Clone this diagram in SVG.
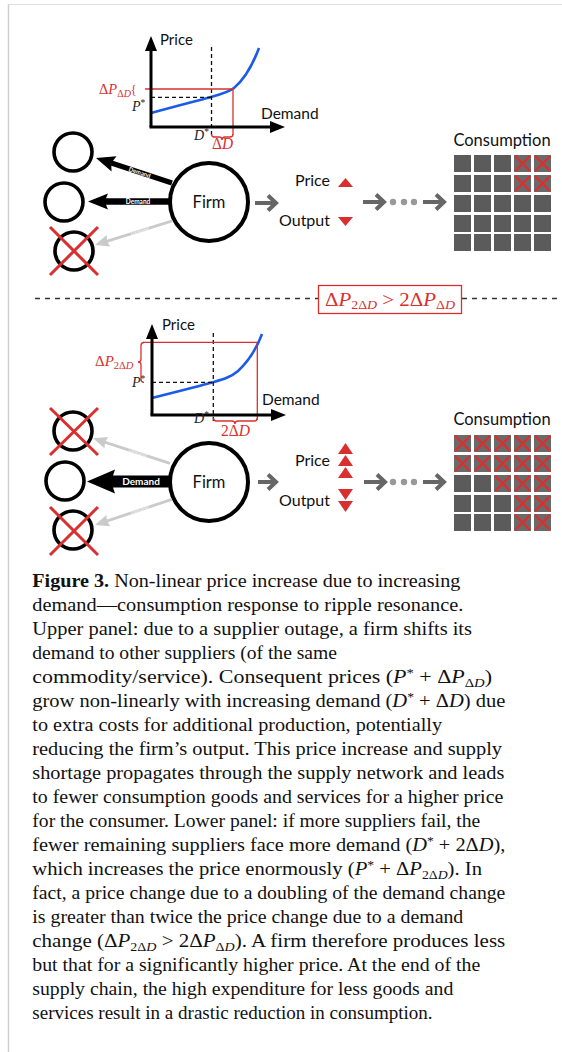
<svg xmlns="http://www.w3.org/2000/svg" width="562" height="1052" viewBox="0 0 562 1052">
<style>
.sans{font-family:Lato,"Open Sans","DejaVu Sans",sans-serif;fill:#111}
.math{font-family:"Liberation Serif","Times New Roman",serif;}
.it{font-style:italic}
.red{fill:#d9302f}
.dk{fill:#222}
.axis{stroke:#000;stroke-width:3;fill:none}
.dash{stroke:#111;stroke-width:1.3;stroke-dasharray:4 3;fill:none}
.rl{stroke:#d9302f;stroke-width:1.3;fill:none}
.curve{stroke:#1a5ce6;stroke-width:2.6;fill:none}
.node{fill:#fff;stroke:#000;stroke-width:3.6}
.firm{fill:#fff;stroke:#000;stroke-width:4}
.x{stroke:#d9302f;stroke-width:3;stroke-linecap:butt}
.garr{stroke:#666;stroke-width:4;fill:none;stroke-linejoin:miter}
.dot{fill:#999}
.tri{fill:#d9302f}
.sq{fill:#5b5b5b}
.sqx{fill:#6a6a6a}
.cx{stroke:#d9302f;stroke-width:2.4}
.cap{font-family:"Liberation Serif","Times New Roman",serif;font-size:18px;fill:#111}
.lbl{font-family:Lato,"Open Sans",sans-serif;font-weight:bold;fill:#fff}
</style>
<defs>
<g id="sq"><rect width="17" height="17" class="sq"/></g>
<g id="sqx"><rect width="17" height="17" class="sqx"/><path d="M1,1 L16,16 M16,1 L1,16" class="cx"/></g>
</defs>

<g id="frame">
<line x1="8.5" y1="4" x2="8.5" y2="1052" stroke="#cfcfcf" stroke-width="1.5"/>
<line x1="8" y1="4.5" x2="562" y2="4.5" stroke="#e0e0e0" stroke-width="1"/>
</g>

<!-- ============ UPPER PANEL ============ -->
<g id="chart-upper">
<path class="curve" d="M151,113 C180,105 200,100 211,97 C222,94 229,92 234,88 C246,78 253,64 259,48"/>
<path class="dash" d="M211.5,47 V137 M151,97.3 H211.5"/>
<path class="rl" d="M145,89 H233 V135"/>
<path class="rl" d="M211.5,134 Q211.5,137 214.5,137 L219,137 Q222,137 222,140 Q222,137 225,137 L230,137 Q233,137 233,134"/>
<line class="axis" x1="151" y1="127" x2="151" y2="49"/>
<line class="axis" x1="149.5" y1="127" x2="272" y2="127"/>
<polygon points="145,51 151,36 157,51" fill="#000"/>
<polygon points="270,121 285,127 270,133" fill="#000"/>
<text class="sans" x="160" y="45" font-size="15">Price</text>
<text class="sans" x="261" y="119" font-size="15.5">Demand</text>
<text class="math red" x="99" y="94" font-size="14.5">Δ<tspan class="it">P</tspan><tspan font-size="10" dy="2.5">Δ</tspan><tspan class="it" font-size="10">D</tspan><tspan font-size="12" dy="-2.5">{</tspan></text>
<text class="math dk" x="132" y="111" font-size="14"><tspan class="it">P</tspan><tspan font-size="9.5" dy="-5">*</tspan></text>
<text class="math dk" x="194" y="140" font-size="14"><tspan class="it">D</tspan><tspan font-size="9.5" dy="-5">*</tspan></text>
<text class="math red" x="212" y="149" font-size="16" textLength="21" lengthAdjust="spacingAndGlyphs">Δ<tspan class="it">D</tspan></text>
</g>

<g id="supplier-u1"><circle class="node" cx="73" cy="152" r="19"/></g>
<g id="supplier-u2"><circle class="node" cx="64" cy="202" r="19"/></g>
<g id="supplier-u3"><circle class="node" cx="74" cy="251" r="19"/><path class="x" d="M50,227 L98,275 M98,227 L50,275"/></g>
<g id="firm-upper"><circle class="firm" cx="209" cy="202" r="39"/><text class="sans" x="209" y="208" font-size="16.5" text-anchor="middle">Firm</text></g>

<g id="price-output-upper">
<text class="sans" x="330" y="186" font-size="16" text-anchor="end">Price</text>
<polygon class="tri" points="338,187 345.5,178 353,187"/>
<text class="sans" x="330" y="226" font-size="16" text-anchor="end">Output</text>
<polygon class="tri" points="338,217 353,217 345.5,226"/>
</g>

<g id="consumption-upper">
<text class="sans" x="502" y="146" font-size="16.5" text-anchor="middle">Consumption</text>
<use href="#sq" x="454" y="155"/><use href="#sq" x="474" y="155"/><use href="#sq" x="494" y="155"/><use href="#sqx" x="514" y="155"/><use href="#sqx" x="534" y="155"/>
<use href="#sq" x="454" y="175"/><use href="#sq" x="474" y="175"/><use href="#sq" x="494" y="175"/><use href="#sqx" x="514" y="175"/><use href="#sqx" x="534" y="175"/>
<use href="#sq" x="454" y="195"/><use href="#sq" x="474" y="195"/><use href="#sq" x="494" y="195"/><use href="#sq" x="514" y="195"/><use href="#sq" x="534" y="195"/>
<use href="#sq" x="454" y="215"/><use href="#sq" x="474" y="215"/><use href="#sq" x="494" y="215"/><use href="#sq" x="514" y="215"/><use href="#sq" x="534" y="215"/>
<use href="#sq" x="454" y="234"/><use href="#sq" x="474" y="234"/><use href="#sq" x="494" y="234"/><use href="#sq" x="514" y="234"/><use href="#sq" x="534" y="234"/>
</g>

<!-- ============ SEPARATOR ============ -->
<g id="separator">
<path d="M35,298.5 H318 M462,298.5 H562" stroke="#333" stroke-width="1.3" stroke-dasharray="5 5" fill="none"/>
<rect x="318.5" y="285.5" width="143" height="28" fill="#fff" stroke="#d9302f" stroke-width="1.3"/>
<text class="math red" x="325" y="306" font-size="18" textLength="130" lengthAdjust="spacingAndGlyphs">Δ<tspan class="it">P</tspan><tspan font-size="12" dy="3">2Δ</tspan><tspan class="it" font-size="12">D</tspan><tspan dy="-3"> &gt; 2Δ</tspan><tspan class="it">P</tspan><tspan font-size="12" dy="3">Δ</tspan><tspan class="it" font-size="12">D</tspan></text>
</g>

<!-- ============ LOWER PANEL ============ -->
<g id="chart-lower">
<path class="curve" d="M152,398 C180,391 200,386 213,382.3 C224,379 231,377 238,371 C249,361 256,350 262,334"/>
<path class="dash" d="M213.3,333 V421 M152,382.3 H213.3" stroke="#444"/>
<path class="rl" d="M143,342.3 H257.3 V420"/>
<path class="rl" d="M213.5,418 Q213.5,421 216.5,421 L232,421 Q235,421 235,424 Q235,421 238,421 L254.3,421 Q257.3,421 257.3,418"/>
<path class="rl" d="M144,342.5 Q141,342.5 141,345.5 L141,359 Q141,362 138,362 Q141,362 141,365 L141,379.3 Q141,382.3 144,382.3"/>
<line class="axis" x1="152" y1="415" x2="152" y2="337"/>
<line class="axis" x1="150.5" y1="415" x2="273" y2="415"/>
<polygon points="146,339 152,324 158,339" fill="#000"/>
<polygon points="271,409 286,415 271,421" fill="#000"/>
<text class="sans" x="162" y="330" font-size="15">Price</text>
<text class="sans" x="262" y="405" font-size="15.5">Demand</text>
<text class="math red" x="95" y="366" font-size="15">Δ<tspan class="it">P</tspan><tspan font-size="10.5" dy="3">2Δ</tspan><tspan class="it" font-size="10.5">D</tspan></text>
<text class="math dk" x="132" y="387" font-size="14"><tspan class="it">P</tspan><tspan font-size="9.5" dy="-5">*</tspan></text>
<text class="math dk" x="194" y="423" font-size="14"><tspan class="it">D</tspan><tspan font-size="9.5" dy="-5">*</tspan></text>
<text class="math red" x="221" y="436" font-size="16" textLength="29" lengthAdjust="spacingAndGlyphs">2Δ<tspan class="it">D</tspan></text>
</g>

<g id="supplier-l1"><circle class="node" cx="73" cy="431" r="19"/><path class="x" d="M50,408 L98,455 M98,408 L50,455"/></g>
<g id="supplier-l2"><circle class="node" cx="65" cy="481" r="19"/></g>
<g id="supplier-l3"><circle class="node" cx="73" cy="530" r="19"/><path class="x" d="M50,507 L98,555 M98,507 L50,555"/></g>
<g id="firm-lower"><circle class="firm" cx="209" cy="482" r="39"/><text class="sans" x="209" y="488" font-size="16.5" text-anchor="middle">Firm</text></g>

<g id="price-output-lower">
<text class="sans" x="330" y="466" font-size="16" text-anchor="end">Price</text>
<polygon class="tri" points="338,454 345.5,443 353,454"/>
<polygon class="tri" points="338,466 345.5,455 353,466"/>
<polygon class="tri" points="338,478 345.5,467 353,478"/>
<text class="sans" x="330" y="506" font-size="16" text-anchor="end">Output</text>
<polygon class="tri" points="338,489 353,489 345.5,500"/>
<polygon class="tri" points="338,501 353,501 345.5,512"/>
</g>

<g id="consumption-lower">
<text class="sans" x="502" y="425" font-size="16.5" text-anchor="middle">Consumption</text>
<use href="#sqx" x="454" y="435"/><use href="#sqx" x="474" y="435"/><use href="#sqx" x="494" y="435"/><use href="#sqx" x="514" y="435"/><use href="#sqx" x="534" y="435"/>
<use href="#sqx" x="454" y="455"/><use href="#sqx" x="474" y="455"/><use href="#sqx" x="494" y="455"/><use href="#sqx" x="514" y="455"/><use href="#sqx" x="534" y="455"/>
<use href="#sq" x="454" y="475"/><use href="#sq" x="474" y="475"/><use href="#sqx" x="494" y="475"/><use href="#sqx" x="514" y="475"/><use href="#sqx" x="534" y="475"/>
<use href="#sq" x="454" y="495"/><use href="#sq" x="474" y="495"/><use href="#sq" x="494" y="495"/><use href="#sqx" x="514" y="495"/><use href="#sqx" x="534" y="495"/>
<use href="#sq" x="454" y="514"/><use href="#sq" x="474" y="514"/><use href="#sq" x="494" y="514"/><use href="#sqx" x="514" y="514"/><use href="#sqx" x="534" y="514"/>
</g>

<!-- ============ CONNECTORS ============ -->
<g id="connectors">
<g transform="translate(96,158) rotate(18.2)">
<polygon points="0,0 19,-8 17,-2.6 80,-2.6 80,2.6 17,2.6 19,8" fill="#000"/>
<text class="lbl" x="46" y="2.2" font-size="6" text-anchor="middle">Demand</text>
</g>
<g transform="translate(88,201.5)">
<polygon points="0,0 20,-8 18,-3.2 84,-3.2 84,3.2 18,3.2 20,8" fill="#000"/>
<text class="lbl" x="50" y="2.4" font-size="6.5" text-anchor="middle">Demand</text>
</g>
<g transform="translate(95,245) rotate(-17.3)">
<polygon points="0,0 14,-6 13,-1.4 81,-1.4 81,1.4 13,1.4 14,6" fill="#cacaca"/>
<text x="47" y="1.6" font-size="5" text-anchor="middle" font-family="Lato,sans-serif" font-weight="bold" fill="#eeeeee">Demand</text>
</g>
<g transform="translate(93,438.3) rotate(18)">
<polygon points="0,0 14,-6 13,-1.4 81,-1.4 81,1.4 13,1.4 14,6" fill="#cacaca"/>
<text x="47" y="1.6" font-size="5" text-anchor="middle" font-family="Lato,sans-serif" font-weight="bold" fill="#eeeeee">Demand</text>
</g>
<g transform="translate(87,481.5)">
<polygon points="0,0 28,-12 26,-6 85,-6 85,6 26,6 28,12" fill="#000"/>
<text class="lbl" x="54" y="3.5" font-size="10" text-anchor="middle">Demand</text>
</g>
<g transform="translate(95,525) rotate(-18.4)">
<polygon points="0,0 14,-6 13,-1.4 81,-1.4 81,1.4 13,1.4 14,6" fill="#cacaca"/>
<text x="47" y="1.6" font-size="5" text-anchor="middle" font-family="Lato,sans-serif" font-weight="bold" fill="#eeeeee">Demand</text>
</g>
<path class="garr" d="M255,203 H276 M268,195.5 L276,203 L268,210.5"/>
<path class="garr" d="M363,202 H384 M376,194.5 L384,202 L376,209.5"/>
<circle class="dot" cx="393" cy="202" r="3.2"/><circle class="dot" cx="404" cy="202" r="3.2"/><circle class="dot" cx="414" cy="202" r="3.2"/>
<path class="garr" d="M423,202 H444 M436,194.5 L444,202 L436,209.5"/>
<path class="garr" d="M258,482 H276 M268,474.5 L276,482 L268,489.5"/>
<path class="garr" d="M364,482 H385 M377,474.5 L385,482 L377,489.5"/>
<circle class="dot" cx="393" cy="482" r="3.2"/><circle class="dot" cx="404" cy="482" r="3.2"/><circle class="dot" cx="414" cy="482" r="3.2"/>
<path class="garr" d="M423,482 H444 M436,474.5 L444,482 L436,489.5"/>
</g>

<!-- ============ CAPTION ============ -->
<g id="caption">
<text class="cap" x="32.3" y="587" textLength="428" lengthAdjust="spacingAndGlyphs"><tspan font-weight="bold">Figure 3.</tspan> Non-linear price increase due to increasing</text>
<text class="cap" x="32.3" y="611" textLength="431" lengthAdjust="spacingAndGlyphs">demand—consumption response to ripple resonance.</text>
<text class="cap" x="32.3" y="635" textLength="439.7" lengthAdjust="spacingAndGlyphs">Upper panel: due to a supplier outage, a firm shifts its</text>
<text class="cap" x="32.3" y="659" textLength="304.7" lengthAdjust="spacingAndGlyphs">demand to other suppliers (of the same</text>
<text class="cap" x="32.3" y="683" textLength="459.7" lengthAdjust="spacingAndGlyphs">commodity/service). Consequent prices (<tspan class="it">P</tspan><tspan font-size="12" dy="-6">*</tspan><tspan dy="6"> + Δ</tspan><tspan class="it">P</tspan><tspan font-size="12" dy="4">Δ</tspan><tspan class="it" font-size="12">D</tspan><tspan dy="-4">)</tspan></text>
<text class="cap" x="32.3" y="707" textLength="473" lengthAdjust="spacingAndGlyphs">grow non-linearly with increasing demand (<tspan class="it">D</tspan><tspan font-size="12" dy="-6">*</tspan><tspan dy="6"> + Δ</tspan><tspan class="it">D</tspan>) due</text>
<text class="cap" x="32.3" y="731" textLength="409.7" lengthAdjust="spacingAndGlyphs">to extra costs for additional production, potentially</text>
<text class="cap" x="32.3" y="755" textLength="469.7" lengthAdjust="spacingAndGlyphs">reducing the firm’s output. This price increase and supply</text>
<text class="cap" x="32.3" y="779" textLength="472" lengthAdjust="spacingAndGlyphs">shortage propagates through the supply network and leads</text>
<text class="cap" x="32.3" y="803" textLength="471" lengthAdjust="spacingAndGlyphs">to fewer consumption goods and services for a higher price</text>
<text class="cap" x="32.3" y="827" textLength="448" lengthAdjust="spacingAndGlyphs">for the consumer. Lower panel: if more suppliers fail, the</text>
<text class="cap" x="32.3" y="851" textLength="473" lengthAdjust="spacingAndGlyphs">fewer remaining suppliers face more demand (<tspan class="it">D</tspan><tspan font-size="12" dy="-6">*</tspan><tspan dy="6"> + 2Δ</tspan><tspan class="it">D</tspan>),</text>
<text class="cap" x="32.3" y="875" textLength="449.7" lengthAdjust="spacingAndGlyphs">which increases the price enormously (<tspan class="it">P</tspan><tspan font-size="12" dy="-6">*</tspan><tspan dy="6"> + Δ</tspan><tspan class="it">P</tspan><tspan font-size="12" dy="4">2Δ</tspan><tspan class="it" font-size="12">D</tspan><tspan dy="-4">). In</tspan></text>
<text class="cap" x="32.3" y="899" textLength="473" lengthAdjust="spacingAndGlyphs">fact, a price change due to a doubling of the demand change</text>
<text class="cap" x="32.3" y="923" textLength="431" lengthAdjust="spacingAndGlyphs">is greater than twice the price change due to a demand</text>
<text class="cap" x="32.3" y="947" textLength="473" lengthAdjust="spacingAndGlyphs">change (Δ<tspan class="it">P</tspan><tspan font-size="12" dy="4">2Δ</tspan><tspan class="it" font-size="12">D</tspan><tspan dy="-4"> &gt; 2Δ</tspan><tspan class="it">P</tspan><tspan font-size="12" dy="4">Δ</tspan><tspan class="it" font-size="12">D</tspan><tspan dy="-4">). A firm therefore produces less</tspan></text>
<text class="cap" x="32.3" y="971" textLength="448" lengthAdjust="spacingAndGlyphs">but that for a significantly higher price. At the end of the</text>
<text class="cap" x="32.3" y="995" textLength="421" lengthAdjust="spacingAndGlyphs">supply chain, the high expenditure for less goods and</text>
<text class="cap" x="32.3" y="1019" textLength="400.3" lengthAdjust="spacingAndGlyphs">services result in a drastic reduction in consumption.</text>
</g>
</svg>
